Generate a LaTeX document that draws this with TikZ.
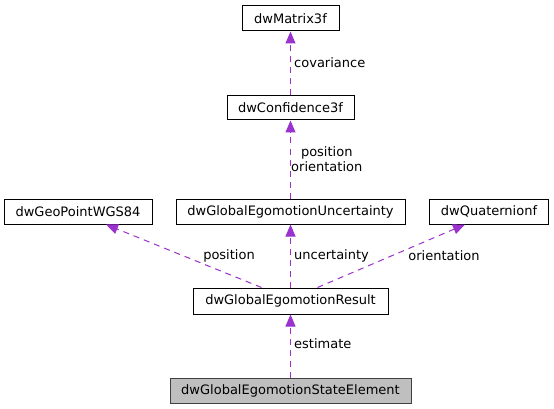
\documentclass[tikz,border=0pt]{standalone}
\usepackage{fontspec}
\setmainfont{DejaVu Sans}
\usetikzlibrary{arrows.meta}
\definecolor{edgepurple}{HTML}{9A32CD}
\tikzset{
  cls/.style={draw=black, line width=1pt, fill=white, inner sep=0pt, minimum height=25pt, font=\fontsize{13}{15}\selectfont},
  cur/.style={cls, draw=black!75, fill=black!25},
  rel/.style={draw=edgepurple, line width=1pt, dash pattern=on 6pt off 5pt, -{Triangle[length=12pt,width=10pt]}},
  lbl/.style={anchor=west, inner sep=0pt, font=\fontsize{13}{15}\selectfont, align=center}
}
\begin{document}
\begin{tikzpicture}[x=1pt,y=-1pt]
\useasboundingbox[fill=white] (0,0) rectangle (554,409);
\node[cls, minimum width=97pt] (mat) at (290.5,18.5) {dwMatrix3f};
\node[cls, minimum width=127pt, minimum height=24pt] (conf) at (290.5,108) {dwConfidence3f};
\node[cls, minimum width=148pt] (geo) at (78,211.5) {dwGeoPointWGS84};
\node[cls, minimum width=229pt] (unc) at (290.5,211.5) {dwGlobalEgomotionUncertainty};
\node[cls, minimum width=119pt] (quat) at (489,211.5) {dwQuaternionf};
\node[cls, minimum width=195pt, minimum height=26pt] (res) at (290.5,301) {dwGlobalEgomotionResult};
\node[cur, minimum width=241pt] (st) at (290.5,390.5) {dwGlobalEgomotionStateElement};

\draw[rel] (st.north) -- (res.south);
\draw[rel] ([xshift=-29pt]res.north) -- ([xshift=28pt]geo.south);
\draw[rel] (res.north) -- (unc.south);
\draw[rel] ([xshift=27pt]res.north) -- ([xshift=-24pt]quat.south);
\draw[rel] (unc.north) -- (conf.south);
\draw[rel] (conf.north) -- (mat.south);

\node[lbl] (lcov) at (294,63) {covariance};
\node[lbl] (lpo) at (291,159) {position\\orientation};
\node[lbl, anchor=center] (lpos) at (229,256) {position};
\node[lbl] (lunc) at (294,256) {uncertainty};
\node[lbl, anchor=center] (lori) at (444,256) {orientation};
\node[lbl] (lest) at (294,344) {estimate};
\end{tikzpicture}
\end{document}
